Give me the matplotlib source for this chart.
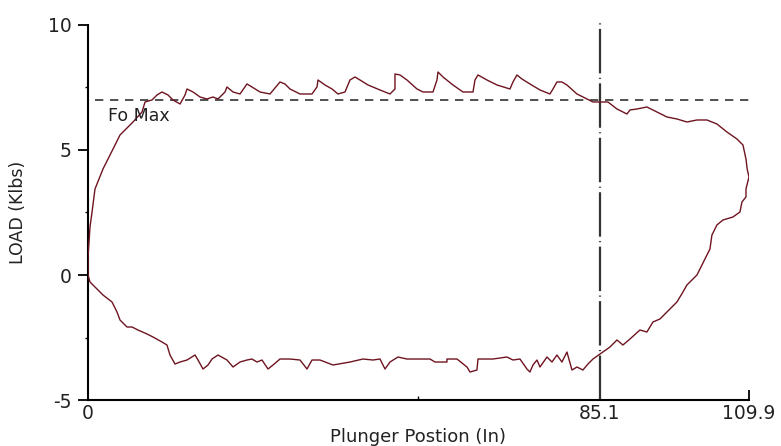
import matplotlib
matplotlib.use("Agg")
import matplotlib.pyplot as plt
from matplotlib.ticker import FixedLocator

plt.rcParams['font.family'] = ['DejaVu Sans']
plt.rcParams['axes.unicode_minus'] = False

# Plunger position (in) and load (klbs) along the card
position = [
    0, 0, 0.17, 0.33, 0.67, 1.16, 2.49, 3.33, 4.16, 5.32, 5.82, 7.48, 8.98, 9.48,
    10.64, 11.47, 12.30, 13.30, 14.13, 15.30, 16.13, 16.46, 17.46, 18.62, 19.78,
    20.78, 21.61, 22.78, 23.11, 24.11, 25.27, 26.43, 27.26, 28.60, 30.26, 31.92,
    32.75, 33.58, 35.25, 37.24, 38.07, 38.24, 39.40, 40.57, 41.56, 42.73, 43.56,
    44.39, 45.22, 46.55, 48.55, 50.21, 51.04, 51.04, 51.87, 53.03, 54.70, 55.69,
    57.36, 58.02, 58.19, 59.02, 60.68, 62.34, 64.01, 64.34, 64.84, 66.33, 68.00,
    70.16, 70.66, 71.32, 72.15, 73.48, 75.15, 76.81, 77.31, 77.97, 78.80, 79.63,
    81.30, 82.96, 83.96, 85.12, 86.45, 87.95, 89.61, 90.11, 91.27, 92.93, 93.93,
    96.26, 97.92, 99.58, 101.25, 102.91, 104.57, 106.23, 107.90, 108.90, 109.40,
    109.60, 109.90, 109.40, 109.40, 108.73, 108.40, 107.23, 105.57, 104.57, 103.74,
    103.41, 102.91, 101.25, 99.58, 98.92, 97.92, 96.26, 95.09, 93.93, 92.93, 91.77,
    90.11, 88.94, 87.95, 86.78, 85.12, 83.96, 83.13, 82.29, 81.30, 80.47, 79.63,
    78.80, 77.97, 77.14, 76.31, 75.15, 74.65, 73.98, 73.48, 72.98, 71.82, 70.66,
    69.66, 67.33, 64.84, 64.67, 63.51, 63.01, 61.35, 59.68, 59.68, 57.69, 56.86,
    53.03, 51.54, 50.21, 49.38, 48.55, 47.38, 45.72, 43.56, 40.73, 38.57, 37.24,
    36.41, 35.25, 33.58, 31.92, 30.76, 29.93, 28.93, 28.10, 27.26, 26.43, 25.27,
    24.11, 23.11, 21.61, 20.62, 19.95, 19.12, 18.29, 17.79, 16.46, 15.30, 14.46,
    13.63, 13.13, 12.30, 10.81, 9.81, 8.31, 7.32, 6.48, 5.32, 4.82, 3.99, 2.49,
    1.50, 0.33, 0,
]
load = [
    0, 0.72, 1.32, 1.92, 2.52, 3.44, 4.24, 4.64, 5.04, 5.60, 5.72, 6.12, 6.52, 6.92,
    7.00, 7.20, 7.32, 7.20, 7.00, 6.84, 7.20, 7.44, 7.32, 7.12, 7.04,
    7.12, 7.04, 7.32, 7.52, 7.32, 7.24, 7.64, 7.52, 7.32, 7.24, 7.72,
    7.64, 7.44, 7.24, 7.24, 7.52, 7.80, 7.60, 7.44, 7.24, 7.32, 7.80,
    7.92, 7.80, 7.60, 7.40, 7.24, 7.44, 8.04, 8.00, 7.80, 7.44, 7.32,
    7.32, 7.80, 8.12, 7.92, 7.60, 7.32, 7.32, 7.80, 8.00, 7.80, 7.60,
    7.44, 7.72, 8.00, 7.84, 7.64, 7.40, 7.24, 7.44, 7.72, 7.72, 7.60,
    7.24, 7.04, 6.92, 6.92, 6.92, 6.64, 6.44, 6.60, 6.64, 6.72, 6.60,
    6.32, 6.24, 6.12, 6.20, 6.20, 6.04, 5.72, 5.44, 5.20, 4.64,
    4.24, 3.92, 3.44, 3.12, 2.92, 2.52, 2.32, 2.20, 2.00, 1.60,
    1.04, 0.80, 0.00, -0.40, -0.68, -1.08, -1.48, -1.76, -1.88, -2.28, -2.20,
    -2.56, -2.80, -2.60, -2.88, -3.16, -3.36, -3.56, -3.80, -3.68, -3.80, -3.08,
    -3.48, -3.20, -3.48, -3.28, -3.68, -3.40, -3.60, -3.88, -3.76, -3.36, -3.40,
    -3.28, -3.36, -3.36, -3.80, -3.88, -3.68, -3.36, -3.36, -3.48, -3.48, -3.36,
    -3.36, -3.28, -3.48, -3.76, -3.36, -3.40, -3.36, -3.48, -3.60, -3.40, -3.40,
    -3.76, -3.40, -3.36, -3.36, -3.60, -3.76, -3.40, -3.48, -3.36, -3.40, -3.48,
    -3.68, -3.40, -3.20, -3.36, -3.60, -3.76, -3.40, -3.20, -3.40, -3.48, -3.56,
    -3.20, -2.80, -2.68, -2.48, -2.36, -2.20, -2.08, -2.08, -1.80, -1.48, -1.08, -0.80,
    -0.56, -0.28, 0,
]

x_ticks = [0, 85.1, 109.9]
x_ticklabels = ["0", "85.1", "109.9"]
y_ticks = [-5, 0, 5, 10]
fo_max = 7.0
marker_pos = 85.1

fig = plt.figure(figsize=(7.81, 4.46), dpi=100)
ax = fig.add_axes([0.1127, 0.1031, 0.8463, 0.8409])

ax.plot(position, load, color='#6e1420', lw=1.0, zorder=3)
ax.plot([1.2, 109.9], [fo_max, fo_max], color='#333333', lw=1.2,
        linestyle=(0, (5, 4)), zorder=2)
ax.plot([marker_pos, marker_pos], [-5, 10.1], color='#333333', lw=1.6,
        linestyle=(0, (20, 2, 0.5, 2)), zorder=2, clip_on=False)
ax.text(3.3, 6.16, "Fo Max", fontsize=12.5, va='baseline', ha='left',
        color='#222222')

ax.set_xlim(0, 109.9)
ax.set_ylim(-5, 10)
ax.spines['top'].set_visible(False)
ax.spines['right'].set_visible(False)
ax.spines['left'].set_linewidth(1.5)
ax.spines['bottom'].set_linewidth(1.5)

ax.set_xticks(x_ticks)
ax.set_xticklabels(x_ticklabels)
ax.xaxis.set_minor_locator(FixedLocator([54.95]))
ax.set_yticks(y_ticks)
ax.yaxis.set_minor_locator(FixedLocator([-2.5, 2.5, 7.5]))

ax.tick_params(axis='x', which='major', direction='in', length=7, width=1.3,
               labelsize=13.5, pad=3, labelcolor='#222222')
ax.tick_params(axis='x', which='minor', direction='in', length=3, width=1.0)
ax.tick_params(axis='y', which='major', direction='out', length=7, width=1.3,
               labelsize=13.5, pad=5, labelcolor='#222222')
ax.tick_params(axis='y', which='minor', direction='out', length=2.5, width=1.0)

ax.set_xlabel("Plunger Postion (In)", fontsize=13, color='#222222')
ax.xaxis.set_label_coords(0.5, -0.075)
ax.set_ylabel("LOAD (Klbs)", fontsize=12.5, color='#222222')
ax.yaxis.label.set_verticalalignment('center')
ax.yaxis.set_label_coords(-0.106, 0.5)

fig.savefig("out.png", dpi=100)
